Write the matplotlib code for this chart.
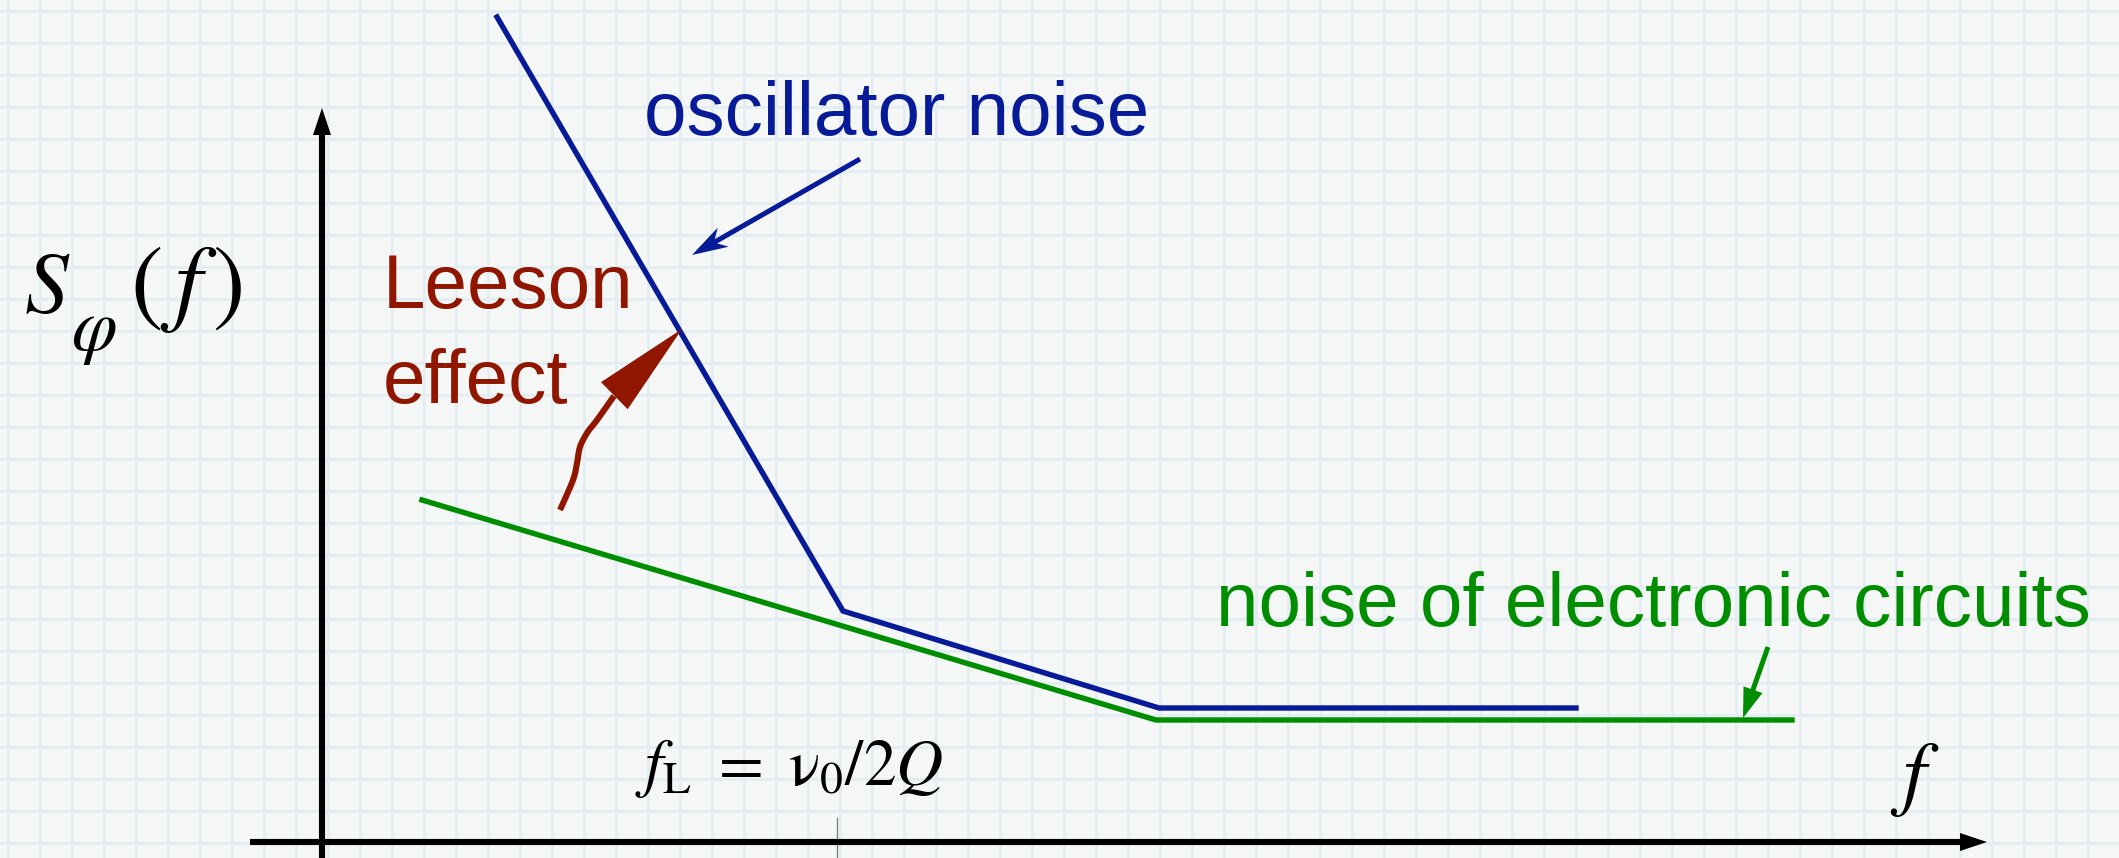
import numpy as np
import matplotlib
matplotlib.use("Agg")
import matplotlib.pyplot as plt
from matplotlib.patches import Polygon

plt.rcParams['mathtext.fontset'] = 'stix'
plt.rcParams['font.family'] = ['Liberation Sans', 'DejaVu Sans']

# Sketch units: pixels measured from the axis origin (f to the right, S up)
# phase noise of the oscillator and of the sustaining electronics (log-log sketch)
osc_f = [175, 521, 837, 1254]
osc_s = [825, 231, 134, 134]
circ_f = [100, 834, 1470]
circ_s = [342, 122, 122]
f_L = 515

# pointer arrows (tail -> tip)
osc_arrow = [(538, 683), (370, 587)]
circ_arrow = [(1446, 195), (1421, 124)]
# wiggly tail of the Leeson arrow (points it passes through)
leeson_tail = [(238, 332), (251, 362), (255, 379), (258, 395),
               (265, 409), (275, 422), (292, 446)]
leeson_tip = (360, 513)

BLUE = '#071a97'
GREEN = '#008d00'
RED = '#911600'
BG = '#f5f7f7'
GRID = '#e3edf2'


def smooth(pts, n=12):
    # Catmull-Rom curve through the given points
    p = np.asarray(pts, float)
    p = np.vstack([p[0], p, p[-1]])
    t = np.linspace(0, 1, n, endpoint=False)[:, None]
    out = []
    for i in range(1, len(p) - 2):
        p0, p1, p2, p3 = p[i - 1], p[i], p[i + 1], p[i + 2]
        out.append(0.5 * (2 * p1 + (-p0 + p2) * t
                          + (2 * p0 - 5 * p1 + 4 * p2 - p3) * t ** 2
                          + (-p0 + 3 * p1 - 3 * p2 + p3) * t ** 3))
    out.append(p[-2][None])
    return np.vstack(out)


def arrow_head(ax, tail, tip, length, half_width, color, notch=0.0, zorder=5):
    tail = np.asarray(tail, float)
    tip = np.asarray(tip, float)
    d = tip - tail
    d /= np.hypot(*d)
    n = np.array([-d[1], d[0]])
    base = tip - d * length
    back = tip - d * length * (1 - notch)
    pts = [tip, base + n * half_width, back, base - n * half_width]
    ax.add_patch(Polygon(pts, closed=True, facecolor=color, edgecolor='none',
                         zorder=zorder))
    # where the shaft should stop, hidden under the head
    return back + d * 3


def arrow(ax, tail, tip, length, half_width, color, lw, notch=0.0):
    end = arrow_head(ax, tail, tip, length, half_width, color, notch)
    ax.plot([tail[0], end[0]], [tail[1], end[1]], color=color, lw=lw,
            solid_capstyle='butt', zorder=4)


fig = plt.figure(figsize=(21.19, 8.58), dpi=100, facecolor=BG)
ax = fig.add_axes([0, 0, 1, 1])
ax.set_xlim(-322, 2119 - 322)
ax.set_ylim(-16, 842)
ax.axis('off')

# squared paper
for x in np.arange(8, 2119, 32) - 322:
    ax.axvline(x, color=GRID, lw=2.0, zorder=0)
for y in 842 - np.arange(11, 858, 32):
    ax.axhline(y, color=GRID, lw=2.0, zorder=0)

# axes
arrow(ax, (0, -16), (0, 734), 27, 9, 'black', 4.4)
arrow(ax, (-72, 0), (1665, 0), 27, 9, 'black', 4.4)
ax.plot([f_L, f_L], [24, -16], color='#777777', lw=0.9, zorder=3)

# spectra
ax.plot(circ_f, circ_s, color=GREEN, lw=3.9, solid_joinstyle='miter', zorder=3)
ax.plot(osc_f, osc_s, color=BLUE, lw=3.9, solid_joinstyle='miter', zorder=3)

# pointers
arrow(ax, osc_arrow[0], osc_arrow[1], 36, 11, BLUE, 3.6, notch=0.3)
arrow(ax, circ_arrow[0], circ_arrow[1], 30, 10, GREEN, 3.6)
curve = smooth(leeson_tail)
ax.plot(curve[:, 0], curve[:, 1], color=RED, lw=4.4,
        solid_joinstyle='round', solid_capstyle='butt', zorder=4)
arrow_head(ax, leeson_tail[-1], leeson_tip, 95, 19, RED)

# labels
ax.text(322, 707, 'oscillator noise', color=BLUE, fontsize=55, va='baseline')
ax.text(61, 534, 'Leeson', color=RED, fontsize=55, va='baseline')
ax.text(61, 439, 'effect', color=RED, fontsize=55, va='baseline')
ax.text(894, 216, 'noise of electronic circuits', color=GREEN, fontsize=55,
        va='baseline')
ax.text(-298, 529, r'$S$', fontsize=63, va='baseline')
ax.text(-251, 492, r'$\varphi$', fontsize=53, va='baseline')
ax.text(-192, 529, r'$(\,f\,)$', fontsize=70, va='baseline')
ax.text(313, 57, r'$f_{\mathrm{L}}\ =\ \mathrm{\nu}_0/2Q$', fontsize=47,
        va='baseline')
ax.text(1568, 42, r'$f$', fontsize=60, va='baseline')

fig.savefig('out.png', dpi=100, facecolor=BG)
